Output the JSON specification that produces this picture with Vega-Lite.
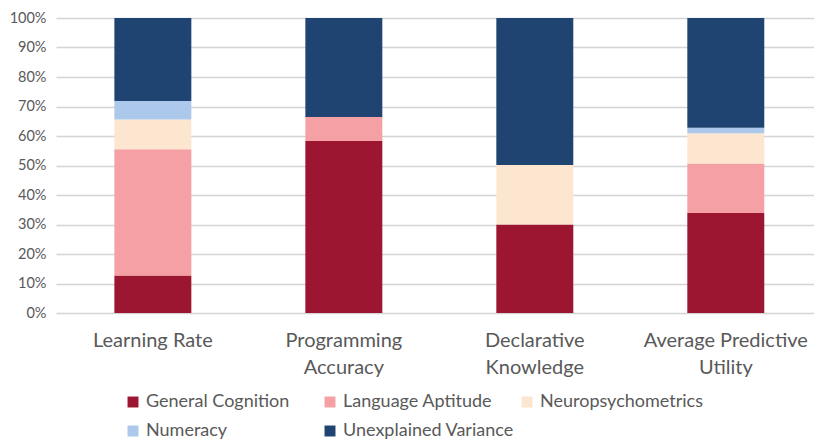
{
  "$schema": "https://vega.github.io/schema/vega-lite/v6.json",
  "autosize": "none",
  "width": 758,
  "height": 295,
  "padding": {"left": 56, "top": 18, "right": 0, "bottom": 127},
  "background": "white",
  "config": {
    "font": "Lato",
    "view": {"stroke": null},
    "axis": {"labelColor": "#595959", "domain": false}
  },
  "data": {
    "values": [
      {"outcome": "Learning Rate", "source": "General Cognition", "value": 12.7},
      {"outcome": "Learning Rate", "source": "Language Aptitude", "value": 42.8},
      {"outcome": "Learning Rate", "source": "Neuropsychometrics", "value": 10.1},
      {"outcome": "Learning Rate", "source": "Numeracy", "value": 6.3},
      {"outcome": "Learning Rate", "source": "Unexplained Variance", "value": 28.1},
      {"outcome": "Programming Accuracy", "source": "General Cognition", "value": 58.3},
      {"outcome": "Programming Accuracy", "source": "Language Aptitude", "value": 8.1},
      {"outcome": "Programming Accuracy", "source": "Neuropsychometrics", "value": 0},
      {"outcome": "Programming Accuracy", "source": "Numeracy", "value": 0},
      {"outcome": "Programming Accuracy", "source": "Unexplained Variance", "value": 33.6},
      {"outcome": "Declarative Knowledge", "source": "General Cognition", "value": 30.0},
      {"outcome": "Declarative Knowledge", "source": "Language Aptitude", "value": 0},
      {"outcome": "Declarative Knowledge", "source": "Neuropsychometrics", "value": 20.2},
      {"outcome": "Declarative Knowledge", "source": "Numeracy", "value": 0},
      {"outcome": "Declarative Knowledge", "source": "Unexplained Variance", "value": 49.8},
      {"outcome": "Average Predictive Utility", "source": "General Cognition", "value": 33.9},
      {"outcome": "Average Predictive Utility", "source": "Language Aptitude", "value": 16.8},
      {"outcome": "Average Predictive Utility", "source": "Neuropsychometrics", "value": 10.2},
      {"outcome": "Average Predictive Utility", "source": "Numeracy", "value": 1.9},
      {"outcome": "Average Predictive Utility", "source": "Unexplained Variance", "value": 37.2}
    ]
  },
  "mark": {"type": "bar"},
  "encoding": {
    "x": {
      "field": "outcome",
      "type": "nominal",
      "sort": null,
      "scale": {"paddingInner": 0.597, "paddingOuter": 0.283, "align": 0.54},
      "axis": {
        "title": null,
        "labelAngle": 0,
        "labelFontSize": 20,
        "labelPadding": 17,
        "labelLineHeight": 27,
        "grid": false,
        "ticks": false,
        "labelExpr": "datum.label == 'Programming Accuracy' ? ['Programming', 'Accuracy'] : datum.label == 'Declarative Knowledge' ? ['Declarative', 'Knowledge'] : datum.label == 'Average Predictive Utility' ? ['Average Predictive', 'Utility'] : datum.label"
      }
    },
    "y": {
      "field": "value",
      "type": "quantitative",
      "stack": "normalize",
      "scale": {"domain": [0, 1]},
      "axis": {"title": null, "format": ".0%", "grid": true, "gridColor": "#d4d4d4", "gridWidth": 1.5, "ticks": false, "labelOverlap": false, "values": [0,0.1,0.2,0.3,0.4,0.5,0.6,0.7,0.8,0.9,1], "labelFontSize": 14.5, "labelPadding": 10}
    },
    "order": {"field": "source", "sort": "ascending"},
    "color": {
      "field": "source",
      "type": "nominal",
      "scale": {
        "domain": ["General Cognition", "Language Aptitude", "Neuropsychometrics", "Numeracy", "Unexplained Variance"],
        "range": ["#9c1631", "#f4a0a4", "#fde6d0", "#acc8ea", "#1f4472"]
      },
      "legend": {
        "title": null,
        "orient": "none",
        "legendX": 68,
        "legendY": 375,
        "direction": "horizontal",
        "columns": 3,
        "gridAlign": "all",
        "symbolType": "square",
        "symbolSize": 120,
        "symbolStrokeWidth": 0,
        "labelFontSize": 18,
        "labelLimit": 260,
        "labelColor": "#595959",
        "columnPadding": 4,
        "rowPadding": 11
      }
    }
  }
}
